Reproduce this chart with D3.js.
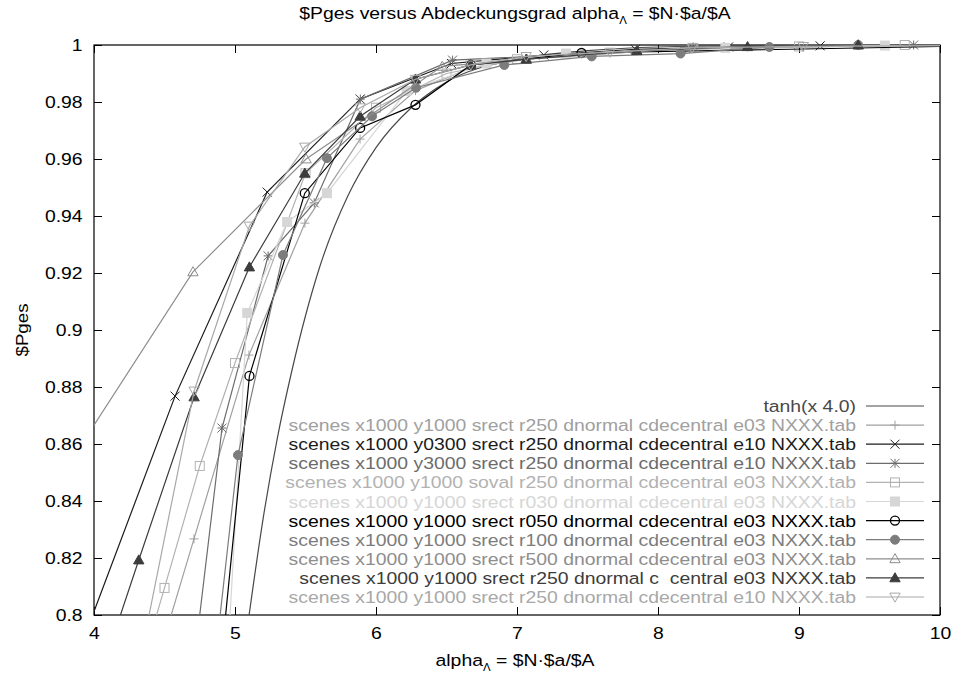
<!DOCTYPE html>
<html>
<head>
<meta charset="utf-8">
<script src="https://cdn.jsdelivr.net/npm/d3@7"></script>
<style>
  body { margin: 0; background: #fff; }
  svg text { font-family: "Liberation Sans", Arial, Helvetica, sans-serif; }
</style>
</head>
<body>
<svg id="chart" width="958" height="675"></svg>
<script>
// ---- data ----
const xTicks = [4, 5, 6, 7, 8, 9, 10];
const yTicks = [0.8, 0.82, 0.84, 0.86, 0.88, 0.9, 0.92, 0.94, 0.96, 0.98, 1];

const labels = [
  "tanh(x 4.0)",
  "scenes x1000 y1000 srect r250 dnormal cdecentral e03 NXXX.tab",
  "scenes x1000 y0300 srect r250 dnormal cdecentral e10 NXXX.tab",
  "scenes x1000 y3000 srect r250 dnormal cdecentral e10 NXXX.tab",
  "scenes x1000 y1000 soval r250 dnormal cdecentral e03 NXXX.tab",
  "scenes x1000 y1000 srect r030 dnormal cdecentral e03 NXXX.tab",
  "scenes x1000 y1000 srect r050 dnormal cdecentral e03 NXXX.tab",
  "scenes x1000 y1000 srect r100 dnormal cdecentral e03 NXXX.tab",
  "scenes x1000 y1000 srect r500 dnormal cdecentral e03 NXXX.tab",
  "scenes x1000 y1000 srect r250 dnormal c  central e03 NXXX.tab",
  "scenes x1000 y1000 srect r250 dnormal cdecentral e10 NXXX.tab"
];

const tanhX = [5.05, 5.1, 5.2, 5.3, 5.4, 5.5, 5.6, 5.8, 6.0, 6.25, 6.5, 7.0, 7.5, 8.0, 9.0, 10.0];
const tanhY = [0.782, 0.800, 0.834, 0.862, 0.885, 0.905, 0.922, 0.947, 0.964, 0.978, 0.987, 0.995, 0.998, 0.9993, 0.9999, 1.0];

const plusX = [4.318, 4.709, 5.099, 5.496, 5.887, 6.28, 6.673, 7.065, 7.85, 8.635, 9.42];
const plusY = [0.762, 0.8267, 0.8912, 0.9375, 0.967, 0.984, 0.992, 0.995, 0.998, 0.9993, 0.9998];

const crossX = [3.93, 4.575, 5.228, 5.887, 6.535, 7.19, 7.84, 8.50, 9.15, 10.45];
const crossY = [0.792, 0.8768, 0.9484, 0.981, 0.9935, 0.9965, 0.9985, 0.9993, 0.9997, 1.0];

const starX = [4.581, 4.908, 5.235, 5.562, 5.889, 6.543, 8.175, 9.813, 11.45];
const starY = [0.73, 0.8656, 0.926, 0.9446, 0.981, 0.9947, 0.9985, 1.0, 1.0];

const boxX = [4.25, 4.5, 4.75, 5.0, 5.5, 6.0, 6.5, 7.0, 8.25, 9.0, 9.75];
const boxY = [0.767, 0.8095, 0.8523, 0.8884, 0.955, 0.978, 0.990, 0.995, 0.999, 0.9995, 1.0];

const fboxX = [4.804, 5.087, 5.37, 5.652, 6.217, 6.783, 7.348, 8.478, 9.609];
const fboxY = [0.66, 0.906, 0.9379, 0.948, 0.9839, 0.9935, 0.997, 0.999, 0.9998];

const circX = [4.71, 5.1025, 5.495, 5.8875, 6.28, 6.6725, 7.4575, 10.6];
const circY = [0.689, 0.8839, 0.948, 0.9709, 0.979, 0.993, 0.9972, 1.0];

const fcircX = [4.709, 5.021, 5.34, 5.652, 5.972, 6.284, 6.91, 7.53, 8.16, 8.79, 9.42];
const fcircY = [0.7175, 0.8561, 0.9263, 0.9603, 0.975, 0.985, 0.993, 0.996, 0.997, 0.9993, 1.0];

const triX = [3.6, 4.702, 5.504, 6.47, 7.07, 8.25, 9.42];
const triY = [0.836, 0.9204, 0.96, 0.9925, 0.995, 0.999, 1.0];

const ftriX = [3.925, 4.3175, 4.71, 5.1025, 5.495, 5.8875, 6.28, 6.6725, 7.065, 7.85, 8.635, 9.42];
const ftriY = [0.761, 0.8193, 0.8765, 0.9221, 0.955, 0.975, 0.988, 0.993, 0.995, 0.998, 0.9994, 1.0];

const itriX = [4.3175, 4.71, 5.1025, 5.495, 5.8875, 6.28, 6.6725, 7.065, 7.66, 8.2425, 9.03, 10.6];
const itriY = [0.782, 0.8786, 0.9365, 0.9642, 0.978, 0.988, 0.993, 0.996, 0.9975, 0.999, 0.9995, 1.0];

// ---- styles (kept apart from the data) ----
const colors  = ["#484848", "#a0a0a0", "#1c1c1c", "#6c6c6c", "#b2b2b2", "#d6d6d6",
                 "#000000", "#7c7c7c", "#8e8e8e", "#3c3c3c", "#a8a8a8"];
const markers = [null, "plus", "cross", "star", "box", "fbox", "circle", "fcircle", "tri", "ftri", "itri"];

const seriesX = [tanhX, plusX, crossX, starX, boxX, fboxX, circX, fcircX, triX, ftriX, itriX];
const seriesY = [tanhY, plusY, crossY, starY, boxY, fboxY, circY, fcircY, triY, ftriY, itriY];

// ---- layout ----
const svg = d3.select("#chart");
const L = 94, R = 940, T = 45, B = 615;
const FS = 17;      // font size
const SX = 1.14;    // gnuplot text is a bit wider than the font

const x = d3.scaleLinear().domain([4, 10]).range([L, R]);
const y = d3.scaleLinear().domain([0.8, 1]).range([B, T]);

svg.append("defs").append("clipPath").attr("id", "plotclip")
  .append("rect").attr("x", L).attr("y", T).attr("width", R - L).attr("height", B - T);

// axes: ticks point inward, mirrored on top/right
function styleAxis(g) {
  g.select(".domain").remove();
  g.selectAll(".tick line").attr("stroke", "#000");
  g.selectAll("text").attr("font-size", FS).attr("font-family", null).attr("fill", "#000")
    .attr("transform", `scale(${SX},1)`);
}

svg.append("g").attr("transform", `translate(0,${B})`)
  .call(d3.axisBottom(x).tickValues(xTicks).tickSizeInner(-8).tickSizeOuter(0).tickPadding(12).tickFormat(d3.format("d")))
  .call(styleAxis);
svg.append("g").attr("transform", `translate(0,${T})`)
  .call(d3.axisTop(x).tickValues(xTicks).tickSizeInner(-8).tickSizeOuter(0).tickFormat(""))
  .call(styleAxis);
svg.append("g").attr("transform", `translate(${L},0)`)
  .call(d3.axisLeft(y).tickValues(yTicks).tickSizeInner(-8).tickSizeOuter(0).tickPadding(10).tickFormat(d => +d.toFixed(2)))
  .call(styleAxis);
svg.append("g").attr("transform", `translate(${R},0)`)
  .call(d3.axisRight(y).tickValues(yTicks).tickSizeInner(-8).tickSizeOuter(0).tickFormat(""))
  .call(styleAxis);

svg.append("rect").attr("x", L).attr("y", T).attr("width", R - L).attr("height", B - T)
  .attr("fill", "none").attr("stroke", "#000").attr("stroke-width", 1.2);

// ---- titles ----
function stretched(tx, ty, anchor, rot) {
  return svg.append("text")
    .attr("transform", `translate(${tx},${ty})${rot ? " rotate(" + rot + ")" : ""} scale(${SX},1)`)
    .attr("text-anchor", anchor).attr("font-size", FS);
}

const title = stretched(515, 19, "middle");
title.append("tspan").text("$Pges versus Abdeckungsgrad alpha");
title.append("tspan").attr("font-size", FS - 7).attr("dy", 5).text("\u039B");
title.append("tspan").attr("dy", -5).text(" = $N\u00B7$a/$A");

const xlab = stretched(515, 666, "middle");
xlab.append("tspan").text("alpha");
xlab.append("tspan").attr("font-size", FS - 7).attr("dy", 5).text("\u039B");
xlab.append("tspan").attr("dy", -5).text(" = $N\u00B7$a/$A");

svg.append("text").attr("transform", "translate(28,330) rotate(-90) scale(1.1,1)")
  .attr("text-anchor", "middle").attr("font-size", FS).text("$Pges");

// ---- markers ----
const S = 4.5;
function marker(g, type, color) {
  if (type === "plus") {
    g.append("path").attr("d", `M${-S},0H${S}M0,${-S}V${S}`).attr("stroke", color).attr("fill", "none");
  } else if (type === "cross") {
    g.append("path").attr("d", `M${-S},${-S}L${S},${S}M${-S},${S}L${S},${-S}`).attr("stroke", color).attr("fill", "none");
  } else if (type === "star") {
    g.append("path").attr("d", `M${-S},0H${S}M0,${-S}V${S}M${-S},${-S}L${S},${S}M${-S},${S}L${S},${-S}`)
      .attr("stroke", color).attr("fill", "none");
  } else if (type === "box" || type === "fbox") {
    g.append("rect").attr("x", -S).attr("y", -S).attr("width", 2 * S).attr("height", 2 * S)
      .attr("stroke", color).attr("fill", type === "fbox" ? color : "none");
  } else if (type === "circle" || type === "fcircle") {
    g.append("circle").attr("r", S)
      .attr("stroke", color).attr("stroke-width", type === "circle" ? 1.3 : 1)
      .attr("fill", type === "fcircle" ? color : "none");
  } else if (type === "tri" || type === "ftri") {
    const a = S * 1.15;
    g.append("path").attr("d", `M0,${-a}L${a},${a * 0.75}L${-a},${a * 0.75}Z`)
      .attr("stroke", color).attr("fill", type === "ftri" ? color : "none");
  } else if (type === "itri") {
    const a = S * 1.15;
    g.append("path").attr("d", `M0,${a}L${a},${-a * 0.75}L${-a},${-a * 0.75}Z`)
      .attr("stroke", color).attr("fill", "none");
  }
}

// ---- series ----
const lineGen = d3.line().x(d => x(d[0])).y(d => y(d[1]));
const tanhGen = d3.line().x(d => x(d[0])).y(d => y(d[1])).curve(d3.curveMonotoneX);

const plot = svg.append("g");
seriesX.forEach((xs, i) => {
  const pts = xs.map((v, j) => [v, seriesY[i][j]]);
  const gen = i === 0 ? tanhGen : lineGen;
  plot.append("path").datum(pts)
    .attr("clip-path", "url(#plotclip)")
    .attr("d", gen)
    .attr("fill", "none")
    .attr("stroke", colors[i])
    .attr("stroke-width", 1.2);

  if (markers[i]) {
    pts.filter(p => p[0] >= 4 && p[0] <= 10 && p[1] >= 0.8 && p[1] <= 1)
      .forEach(p => {
        const g = plot.append("g").attr("transform", `translate(${x(p[0])},${y(p[1])})`);
        marker(g, markers[i], colors[i]);
      });
  }
});

// ---- legend ----
const legTop = 406, legStep = 19.1, legTextX = 856, legLine0 = 866, legLine1 = 924;
labels.forEach((lab, i) => {
  const cy = legTop + i * legStep;
  stretched(legTextX, cy + 6, "end")
    .attr("fill", colors[i]).style("white-space", "pre").text(lab);
  svg.append("line").attr("x1", legLine0).attr("x2", legLine1).attr("y1", cy).attr("y2", cy)
    .attr("stroke", colors[i]).attr("stroke-width", 1.2);
  if (markers[i]) {
    const g = svg.append("g").attr("transform", `translate(${(legLine0 + legLine1) / 2},${cy})`);
    marker(g, markers[i], colors[i]);
  }
});
</script>
</body>
</html>
